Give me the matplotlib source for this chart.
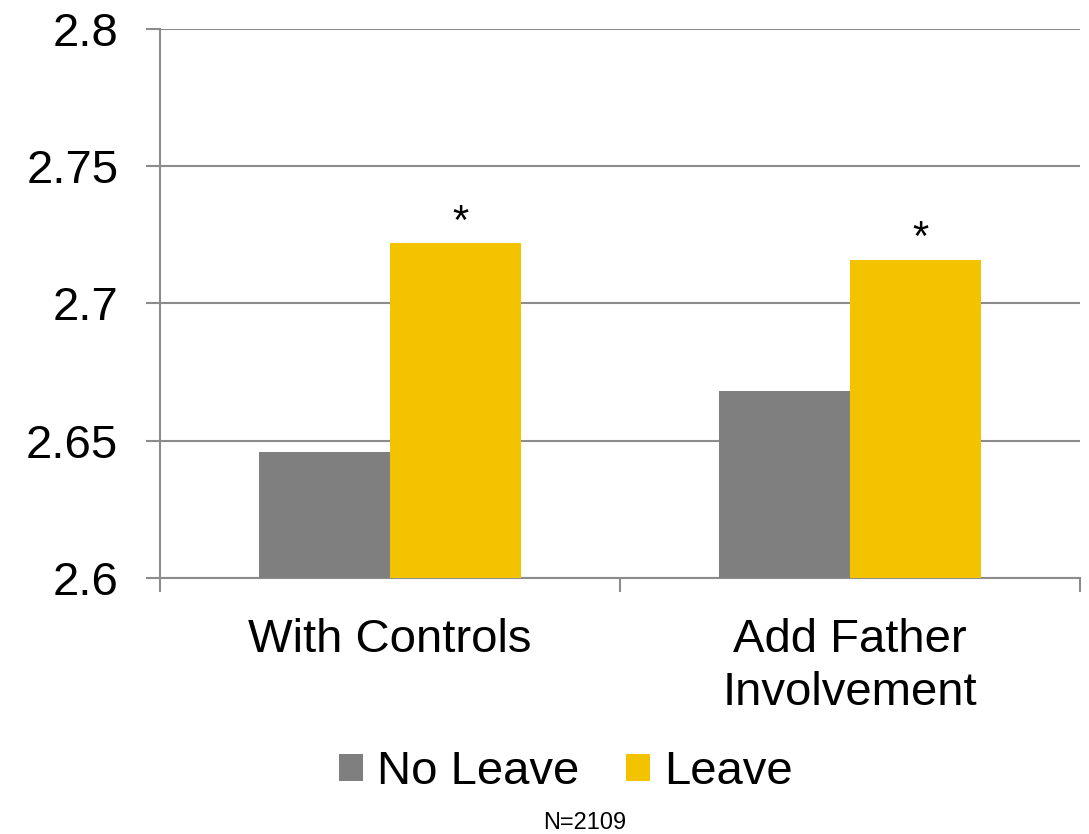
import numpy as np
import matplotlib.pyplot as plt

plt.rcParams["font.family"] = ["Liberation Sans", "DejaVu Sans"]

categories = ["With Controls", "Add Father\nInvolvement"]
no_leave = [2.646, 2.668]
leave = [2.722, 2.716]
series_names = ["No Leave", "Leave"]
significant = ["*", "*"]

gray = "#7f7f7f"
yellow = "#f3c300"
line_col = "#8c8c8c"

fig = plt.figure(figsize=(10.89, 8.34), dpi=100)
ax = fig.add_axes([160 / 1089, 1 - 578 / 834, 920 / 1089, 549 / 834])

x = np.arange(len(categories))
w = 0.285
ax.bar(x - w / 2, no_leave, w, color=gray, label=series_names[0], zorder=3)
ax.bar(x + w / 2, leave, w, color=yellow, label=series_names[1], zorder=3)

# significance markers above the leave bars
for xi, v, s in zip(x, leave, significant):
    ax.text(xi + w / 2 + 0.01, v + 0.0075, s, ha="center", va="center", fontsize=30)

ax.set_ylim(2.6, 2.8)
ax.set_xlim(-0.5, len(categories) - 0.5)
ax.set_yticks([2.6, 2.65, 2.7, 2.75, 2.8])
ax.set_yticklabels(["2.6", "2.65", "2.7", "2.75", "2.8"])
ax.yaxis.grid(True, color=line_col, linewidth=1.5, zorder=0)

# category boundaries get the tick marks, labels sit between them
ax.set_xticks(np.arange(len(categories) + 1) - 0.5)
ax.set_xticklabels([])
ax.set_xticks(x, minor=True)
ax.set_xticklabels(categories, minor=True, fontsize=34, linespacing=1.26)
ax.tick_params(axis="x", which="major", length=10, width=1.5, color=line_col)
ax.tick_params(axis="x", which="minor", length=0, pad=29)
ax.tick_params(axis="y", length=10, width=1.5, color=line_col, labelsize=34, pad=20)

for side in ["top", "right"]:
    ax.spines[side].set_visible(False)
for side in ["left", "bottom"]:
    ax.spines[side].set_color(line_col)
    ax.spines[side].set_linewidth(1.5)

fig.legend(loc="center", bbox_to_anchor=(566 / 1089, 1 - 772 / 834), ncol=2,
           frameon=False, fontsize=34, handlelength=0.5, handleheight=0.5,
           handletextpad=0.3, columnspacing=1.0, borderpad=0)

fig.text(585 / 1089, 1 - 823 / 834, "N=2109", ha="center", va="center", fontsize=17)

fig.savefig("out.png", dpi=100)
